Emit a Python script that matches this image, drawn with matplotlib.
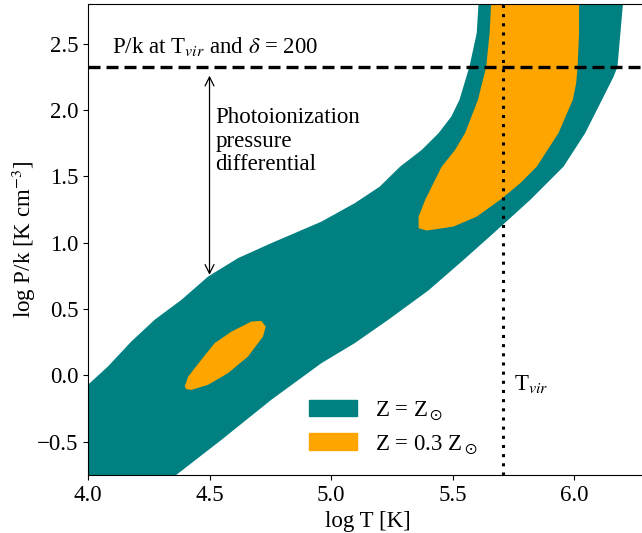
import matplotlib
matplotlib.use('Agg')
import matplotlib.pyplot as plt
from matplotlib.patches import Patch

plt.rcParams['font.family'] = 'serif'
plt.rcParams['font.serif'] = ['Liberation Serif', 'Times New Roman', 'DejaVu Serif']
plt.rcParams['mathtext.fontset'] = 'stix'
plt.rcParams['font.size'] = 16.5

# teal band (Z = Zsun): upper-left edge and lower-right edge
solar_upper_T = [4.0, 4.082, 4.178, 4.274, 4.384, 4.494, 4.617, 4.754, 4.96, 5.097, 5.20,
                 5.284, 5.373, 5.442, 5.494, 5.528, 5.569, 5.599, 5.606, 5.607]
solar_upper_P = [-0.071, 0.067, 0.255, 0.419, 0.569, 0.745, 0.884, 0.997, 1.159, 1.298, 1.423,
                 1.574, 1.70, 1.826, 1.95, 2.077, 2.327, 2.58, 2.79, 2.95]
solar_lower_T = [6.20, 6.20, 6.19, 6.178, 6.162, 6.114, 6.045, 5.956, 5.819, 5.668, 5.545,
                 5.40, 5.235, 5.097, 4.96, 4.754, 4.549, 4.364, 4.30]
solar_lower_P = [2.95, 2.79, 2.58, 2.327, 2.252, 2.077, 1.826, 1.574, 1.323, 1.072, 0.871,
                 0.64, 0.419, 0.243, 0.092, -0.184, -0.486, -0.749, -0.83]

# orange region near T_vir (Z = 0.3 Zsun)
low_hot_left_T = [5.658, 5.658, 5.652, 5.638, 5.604, 5.551, 5.51, 5.455, 5.421, 5.387, 5.36,
                  5.36, 5.393]
low_hot_left_P = [2.95, 2.79, 2.58, 2.327, 2.077, 1.826, 1.70, 1.574, 1.449, 1.323, 1.197,
                  1.11, 1.092]
low_hot_right_T = [5.503, 5.599, 5.695, 5.778, 5.846, 5.935, 5.994, 6.008, 6.014, 6.02, 6.02, 6.02]
low_hot_right_P = [1.122, 1.197, 1.323, 1.449, 1.574, 1.826, 2.077, 2.202, 2.327, 2.58, 2.79, 2.95]

# orange blob at low T
low_cool_T = [4.398, 4.412, 4.466, 4.521, 4.59, 4.672, 4.713, 4.731, 4.72, 4.658, 4.576,
              4.494, 4.425, 4.405]
low_cool_P = [-0.084, -0.009, 0.117, 0.243, 0.33, 0.406, 0.411, 0.368, 0.293, 0.142, 0.017,
              -0.071, -0.109, -0.104]

logT_vir = 5.708
logP_vir = 2.327
arrow_x = 4.5
arrow_top = 2.26
arrow_bottom = 0.758

teal = '#008080'
orange = '#FFA500'

fig = plt.figure(figsize=(6.42, 5.33), dpi=100)
ax = fig.add_axes([0.137, 0.109, 0.871, 0.8835])

ax.fill([4.0, 3.9] + solar_upper_T + solar_lower_T + [3.9],
        [-0.9, -0.071] + solar_upper_P + solar_lower_P + [-0.9],
        color=teal, lw=0)
ax.fill(low_hot_left_T + low_hot_right_T, low_hot_left_P + low_hot_right_P,
        color=orange, lw=0)
ax.fill(low_cool_T, low_cool_P, color=orange, lw=0)

ax.axhline(logP_vir, color='k', ls=(0, (3.6, 1.8)), lw=2.4)
ax.axvline(logT_vir, color='k', ls=(0, (1, 2)), lw=2.2)

ax.annotate('', xy=(arrow_x, arrow_bottom), xytext=(arrow_x, arrow_top),
            arrowprops=dict(arrowstyle='<->', color='k', lw=0.9, shrinkA=0, shrinkB=0,
                            mutation_scale=16))

ax.text(4.099, 2.43, r'P/k at T$_{vir}$ and $\delta$ = 200', va='baseline', ha='left')
ax.text(4.523, 2.02, 'Photoionization\npressure\ndifferential', va='top', ha='left',
        linespacing=1.15)
ax.text(5.753, -0.109, r'T$_{vir}$', va='baseline', ha='left')

handles = [Patch(color=teal, label=r'Z = Z$_\odot$'),
           Patch(color=orange, label=r'Z = 0.3 Z$_\odot$')]
ax.legend(handles=handles, loc='lower left', bbox_to_anchor=(0.358, -0.003), frameon=False,
          handlelength=2.1, handleheight=0.74, labelspacing=0.48, handletextpad=0.8)

ax.set_xlim(4.0, 6.3)
ax.set_ylim(-0.75, 2.8)
ax.set_xticks([4.0, 4.5, 5.0, 5.5, 6.0])
ax.set_yticks([-0.5, 0.0, 0.5, 1.0, 1.5, 2.0, 2.5])
ax.set_xlabel('log T [K]')
ax.set_ylabel(r'log P/k [K cm$^{-3}$]', labelpad=-1)

fig.savefig('out.png', dpi=100)
